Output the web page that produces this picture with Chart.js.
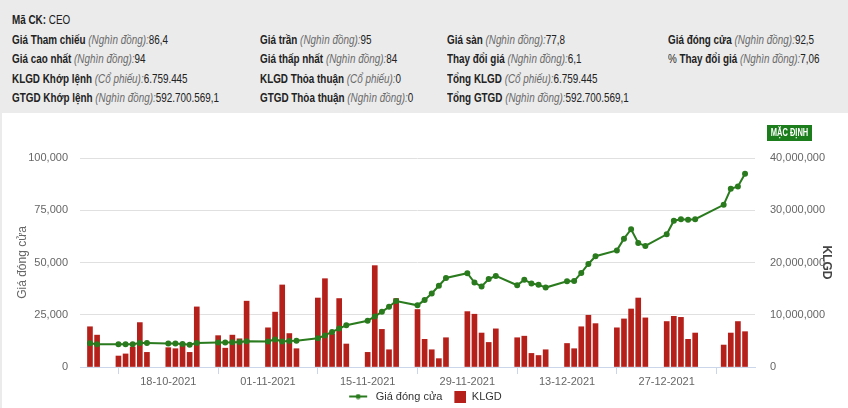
<!DOCTYPE html>
<html>
<head>
<meta charset="utf-8">
<script src="https://cdn.jsdelivr.net/npm/chart.js@4/dist/chart.umd.min.js"></script>
<style>
    body { margin: 0; width: 848px; height: 408px; background: #ebebeb; overflow: hidden;
           font-family: "Liberation Sans", Arial, sans-serif; }
    .info div { position: absolute; font-size: 13px; color: #222; white-space: nowrap; line-height: 16px;
                transform: scaleX(0.76); transform-origin: 0 0; }
    .info b { font-weight: bold; }
    .info i { color: #6a6a6a; }
    .panel { position: absolute; left: 2px; top: 113px; width: 846px; height: 295px; background: #fff; }
    .wrap { position: absolute; left: 0; top: 113px; width: 848px; height: 299px; }
    .btn { position: absolute; left: 767px; top: 125px; width: 45px; height: 16px; background: #1c7d1c; }
    .btn span { display: block; color: #fff; font-size: 10px; font-weight: bold; white-space: nowrap;
                line-height: 16px; transform: scaleX(0.75); transform-origin: 50% 0; text-align: center; margin-left: -10px; width: 65px; }
</style>
</head>
<body>
<div class="info">
    <div style="left:12px;top:12px"><b>Mã CK:</b> CEO</div>
    <div style="left:12px;top:32px"><b>Giá Tham chiếu</b> <i>(Nghìn đồng):</i>86,4</div>
    <div style="left:260px;top:32px"><b>Giá trần</b> <i>(Nghìn đồng):</i>95</div>
    <div style="left:447px;top:32px"><b>Giá sàn</b> <i>(Nghìn đồng):</i>77,8</div>
    <div style="left:668px;top:32px"><b>Giá đóng cửa</b> <i>(Nghìn đồng):</i>92,5</div>
    <div style="left:12px;top:51px"><b>Giá cao nhất</b> <i>(Nghìn đồng):</i>94</div>
    <div style="left:260px;top:51px"><b>Giá thấp nhất</b> <i>(Nghìn đồng):</i>84</div>
    <div style="left:447px;top:51px"><b>Thay đổi giá</b> <i>(Nghìn đồng):</i>6,1</div>
    <div style="left:668px;top:51px">% <b>Thay đổi giá</b> <i>(Nghìn đồng):</i>7,06</div>
    <div style="left:12px;top:71px"><b>KLGD Khớp lệnh</b> <i>(Cổ phiếu):</i>6.759.445</div>
    <div style="left:260px;top:71px"><b>KLGD Thỏa thuận</b> <i>(Cổ phiếu):</i>0</div>
    <div style="left:447px;top:71px"><b>Tổng KLGD</b> <i>(Cổ phiếu):</i>6.759.445</div>
    <div style="left:12px;top:90px"><b>GTGD Khớp lệnh</b> <i>(Nghìn đồng):</i>592.700.569,1</div>
    <div style="left:260px;top:90px"><b>GTGD Thỏa thuận</b> <i>(Nghìn đồng):</i>0</div>
    <div style="left:447px;top:90px"><b>Tổng GTGD</b> <i>(Nghìn đồng):</i>592.700.569,1</div>
</div>
<div class="panel"></div>
<div class="wrap"><canvas id="chart"></canvas></div>
<div class="btn"><span>MẶC ĐỊNH</span></div>

<script>
// trading days shown on the chart
const dates = [
    '2021-10-07', '2021-10-08', '2021-10-11', '2021-10-12', '2021-10-13', '2021-10-14', '2021-10-15',
    '2021-10-18', '2021-10-19', '2021-10-20', '2021-10-21', '2021-10-22',
    '2021-10-25', '2021-10-26', '2021-10-27', '2021-10-28', '2021-10-29',
    '2021-11-01', '2021-11-02', '2021-11-03', '2021-11-04', '2021-11-05',
    '2021-11-08', '2021-11-09', '2021-11-10', '2021-11-11', '2021-11-12',
    '2021-11-15', '2021-11-16', '2021-11-17', '2021-11-18', '2021-11-19',
    '2021-11-22', '2021-11-23', '2021-11-24', '2021-11-25', '2021-11-26',
    '2021-11-29', '2021-11-30', '2021-12-01', '2021-12-02', '2021-12-03',
    '2021-12-06', '2021-12-07', '2021-12-08', '2021-12-09', '2021-12-10',
    '2021-12-13', '2021-12-14', '2021-12-15', '2021-12-16', '2021-12-17',
    '2021-12-20', '2021-12-21', '2021-12-22', '2021-12-23', '2021-12-24',
    '2021-12-27', '2021-12-28', '2021-12-29', '2021-12-30', '2021-12-31',
    '2022-01-04', '2022-01-05', '2022-01-06', '2022-01-07'
]

// Giá đóng cửa (VND)
const closePrice = [
    11400, 10900, 10900, 10900, 10900, 11500, 11500,
    11200, 11200, 11000, 10700, 11500,
    11700, 11700, 11800, 12000, 12300,
    12200, 13200, 12200, 12500, 12600,
    13800, 15100, 16800, 18400, 20000,
    22100, 24200, 26400, 28800, 31600,
    29500, 32100, 35200, 38900, 42600,
    44900, 40400, 38500, 42100, 43600,
    39100, 41800, 39900, 39400, 38000,
    41000, 41100, 45000, 49300, 53000,
    55800, 61400, 65900, 59300, 57900,
    63500, 70000, 70700, 70500, 70700,
    77600, 85300, 86400, 92500
]

// KLGD (cổ phiếu)
const volume = [
    7700000, 6100000, 2100000, 2500000, 3800000, 8500000, 2800000,
    3700000, 3500000, 4500000, 2800000, 11500000,
    6000000, 3600000, 6100000, 5400000, 12600000,
    7500000, 10500000, 15700000, 6400000, 3500000,
    13200000, 16900000, 6300000, 13100000, 4400000,
    2800000, 19400000, 7200000, 3300000, 13100000,
    11000000, 5300000, 3300000, 1600000, 5600000,
    10600000, 10100000, 6500000, 4700000, 7300000,
    5600000, 5900000, 2600000, 2200000, 3300000,
    4500000, 3500000, 7700000, 9900000, 8300000,
    7500000, 9200000, 11100000, 13200000, 9400000,
    8700000, 9700000, 9500000, 5300000, 6500000,
    4200000, 6500000, 8700000, 6759445
]

const priceTicks  = [0, 25000, 50000, 75000, 100000]
const volumeTicks = [0, 10000000, 20000000, 30000000, 40000000]

const DAY  = 86400000
const BASE = Date.UTC(2021, 9, 18)   // 18-10-2021 = day 0, ticks every 14 days

let dayOf = (s) => (Date.parse(s + 'T00:00:00Z') - BASE) / DAY
let fmtDay = (d) => {
    let t  = new Date(BASE + Math.round(d) * DAY)
    let dd = String(t.getUTCDate()).padStart(2, '0')
    let mm = String(t.getUTCMonth() + 1).padStart(2, '0')
    return `${dd}-${mm}-${t.getUTCFullYear()}`
}

const days = dates.map(dayOf)
const green = '#2a7a1e'
const red   = '#b5201b'

// legend icons (24 px wide, drawn centred in the legend box)
let lineIcon = document.createElement('canvas')
lineIcon.width = 24; lineIcon.height = 6
let lc = lineIcon.getContext('2d')
lc.strokeStyle = green; lc.lineWidth = 2
lc.beginPath(); lc.moveTo(3, 3); lc.lineTo(21, 3); lc.stroke()
lc.fillStyle = green; lc.beginPath(); lc.arc(12, 3, 2.5, 0, Math.PI * 2); lc.fill()

let boxIcon = document.createElement('canvas')
boxIcon.width = 24; boxIcon.height = 12
let bc = boxIcon.getContext('2d')
bc.fillStyle = red; bc.fillRect(12, 0, 12, 12)

const icons = [lineIcon, boxIcon]

Chart.defaults.font.family = '"Liberation Sans", Arial, sans-serif'
Chart.defaults.color = '#666'

new Chart(document.getElementById('chart'), {
    data: {
        datasets: [
            {
                type: 'line',
                label: 'Giá đóng cửa',
                data: days.map((d, i) => ({x: d, y: closePrice[i]})),
                yAxisID: 'y',
                borderColor: green,
                backgroundColor: green,
                borderWidth: 2,
                pointRadius: 2,
                pointHoverRadius: 3,
                tension: 0,
                order: 0
            },
            {
                type: 'bar',
                label: 'KLGD',
                data: days.map((d, i) => ({x: d, y: volume[i]})),
                yAxisID: 'y1',
                backgroundColor: red,
                barThickness: 5,
                order: 1
            }
        ]
    },
    options: {
        responsive: true,
        maintainAspectRatio: false,
        animation: false,
        layout: { padding: { top: 45, left: 0, right: 0, bottom: 0 } },
        plugins: {
            tooltip: { enabled: false },
            legend: {
                position: 'bottom',
                labels: {
                    usePointStyle: true,
                    pointStyleWidth: 24,
                    color: '#333',
                    font: { size: 11 },
                    padding: 0,
                    generateLabels: (chart) => {
                        let items = Chart.defaults.plugins.legend.labels.generateLabels(chart)
                        items.forEach((it) => { it.pointStyle = icons[it.datasetIndex] })
                        return items
                    }
                }
            }
        },
        scales: {
            x: {
                type: 'linear',
                min: days[0] - 1.4,
                max: days[days.length - 1] + 1.4,
                offset: false,
                grid: { drawOnChartArea: false, drawTicks: true, tickLength: 7, color: '#ccd6eb' },
                border: { color: '#ccd6eb' },
                ticks: {
                    stepSize: 14,
                    includeBounds: false,
                    maxRotation: 0,
                    padding: 1,
                    font: { size: 11 },
                    callback: (v) => fmtDay(v)
                },
                afterFit: (s) => { s.height = 24 }
            },
            y: {
                position: 'left',
                min: priceTicks[0],
                max: priceTicks[priceTicks.length - 1],
                grid: { color: '#e0e0e0', drawTicks: false },
                border: { display: false },
                ticks: {
                    stepSize: 25000,
                    padding: 12,
                    font: { size: 11 },
                    callback: (v) => v.toLocaleString('en-US')
                },
                title: { display: true, text: 'Giá đóng cửa', font: { size: 12 }, padding: { top: 15 } },
                afterFit: (s) => { s.width = 80 }
            },
            y1: {
                position: 'right',
                min: volumeTicks[0],
                max: volumeTicks[volumeTicks.length - 1],
                grid: { drawOnChartArea: false, drawTicks: false },
                border: { display: false },
                ticks: {
                    stepSize: 10000000,
                    padding: 15,
                    font: { size: 11 },
                    callback: (v) => v.toLocaleString('en-US')
                },
                title: { display: true, text: 'KLGD', color: '#444', font: { size: 12, weight: 'bold' }, padding: { top: 14 } },
                afterFit: (s) => { s.width = 93 }
            }
        }
    }
})
</script>
</body>
</html>
